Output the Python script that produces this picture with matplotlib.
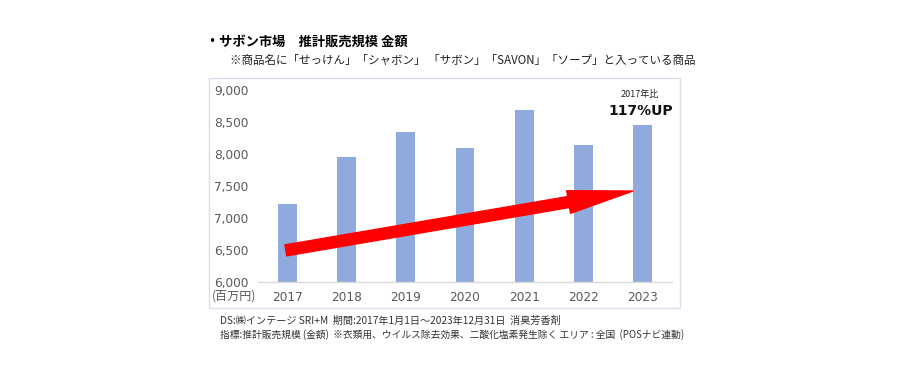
import matplotlib
matplotlib.use("Agg")
import matplotlib.pyplot as plt
from matplotlib.patches import FancyArrowPatch, Rectangle

plt.rcParams['font.family'] = ['Noto Sans CJK JP', 'DejaVu Sans']

years = ["2017", "2018", "2019", "2020", "2021", "2022", "2023"]
sales = [7220, 7950, 8340, 8090, 8690, 8135, 8450]
yticks = [6000, 6500, 7000, 7500, 8000, 8500, 9000]
ytick_labels = ["6,000", "6,500", "7,000", "7,500", "8,000", "8,500", "9,000"]

title = "・サボン市場　推計販売規模 金額"
subtitle = "※商品名に「せっけん」「シャボン」 「サボン」「SAVON」「ソープ」と入っている商品"
unit = "(百万円)"
note1 = "DS:㈱インテージ SRI+M  期間:2017年1月1日～2023年12月31日  消臭芳香剤"
note2 = "指標:推計販売規模 (金額)  ※衣類用、ウイルス除去効果、二酸化塩素発生除く エリア : 全国  (POSナビ連動)"
ann_small = "2017年比"
ann_big = "117%UP"

W, H = 923, 368
fig = plt.figure(figsize=(W / 100, H / 100), dpi=100)

# outer frame
fig.patches.append(Rectangle((209 / W, 1 - 308 / H), (680 - 209) / W, (308 - 78) / H,
                             transform=fig.transFigure, fill=False,
                             edgecolor="#D9DEEA", linewidth=1.0))

ax = fig.add_axes([258 / W, 1 - 281.7 / H, (672 - 258) / W, (281.7 - 90) / H])
x = list(range(len(years)))
ax.bar(x, sales, width=0.32, color="#8FAADC", zorder=2)
ax.set_xlim(-0.5, len(years) - 0.5)
ax.set_ylim(6000, 9000)
ax.set_yticks(yticks)
ax.set_yticklabels(ytick_labels)
ax.set_xticks(x)
ax.set_xticklabels(years)
for s in ["top", "right", "left"]:
    ax.spines[s].set_visible(False)
ax.spines["bottom"].set_color("#D9D9D9")
ax.spines["bottom"].set_linewidth(1.0)
ax.tick_params(axis="both", length=0, colors="#595959", labelsize=8.7)
ax.tick_params(axis="y", pad=7)
ax.tick_params(axis="x", pad=7)
for lab in ax.get_yticklabels() + ax.get_xticklabels():
    lab.set_family(["DejaVu Sans", "Noto Sans CJK JP"])

# trend arrow
arrow = FancyArrowPatch((-0.03, 6490), (5.84, 7419),
                        arrowstyle="simple,head_width=16.5,head_length=47,tail_width=8",
                        mutation_scale=1, color="#FF0000", shrinkA=0, shrinkB=0, zorder=3)
ax.add_patch(arrow)

fig.text(640 / W, 1 - 95 / H, ann_small, ha="center", va="center", fontsize=6.5, color="#222222")
fig.text(641 / W, 1 - 111 / H, ann_big, ha="center", va="center", fontsize=10,
         fontweight="bold", color="#111111", family=["DejaVu Sans", "Noto Sans CJK JP"])

fig.text(212 / W, 1 - 296 / H, unit, ha="left", va="center", fontsize=8.7, color="#595959")

fig.text(206 / W, 1 - 43 / H, title, ha="left", va="center", fontsize=9.5, fontweight="bold", color="#000000")
fig.text(230 / W, 1 - 60 / H, subtitle, ha="left", va="center", fontsize=8.3, color="#222222")

fig.text(220 / W, 1 - 321 / H, note1, ha="left", va="center", fontsize=7.3, color="#333333")
fig.text(220 / W, 1 - 335 / H, note2, ha="left", va="center", fontsize=7, color="#333333")

fig.savefig("out.png", dpi=100, facecolor="white")
